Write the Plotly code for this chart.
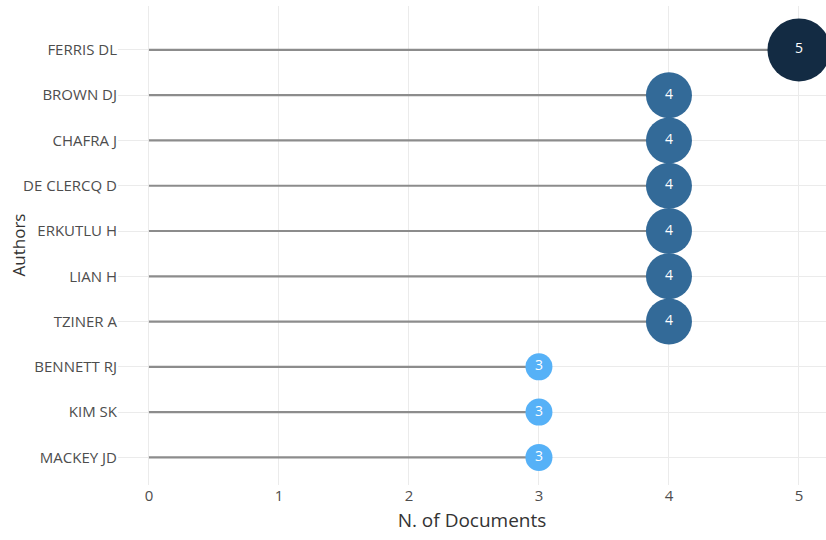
import plotly.graph_objects as go

# Most relevant authors: number of documents per author (top to bottom)
authors = ["FERRIS DL", "BROWN DJ", "CHAFRA J", "DE CLERCQ D", "ERKUTLU H",
           "LIAN H", "TZINER A", "BENNETT RJ", "KIM SK", "MACKEY JD"]
n_docs = [5, 4, 4, 4, 4, 4, 4, 3, 3, 3]

# Marker colour and diameter per document count
colour_by_count = {3: "#56B1F7", 4: "#336A98", 5: "#132B43"}
size_by_count = {3: 27, 4: 46, 5: 63}

fig = go.Figure()

# Lollipop stems from 0 to each author's count
seg_x, seg_y = [], []
for a, n in zip(authors, n_docs):
    seg_x += [0, n, None]
    seg_y += [a, a, None]
fig.add_trace(go.Scatter(
    x=seg_x, y=seg_y, mode="lines",
    line=dict(color="#8c8c8c", width=2.2),
    hoverinfo="skip", showlegend=False,
))

# Circles with the count printed inside
fig.add_trace(go.Scatter(
    x=n_docs, y=authors, mode="markers+text",
    text=[str(n) for n in n_docs],
    textposition="middle center",
    textfont=dict(color="white", size=14, family="Open Sans"),
    marker=dict(color=[colour_by_count[n] for n in n_docs],
                size=[size_by_count[n] for n in n_docs],
                line=dict(width=0), opacity=1),
    cliponaxis=False, showlegend=False,
))

fig.update_layout(
    width=826, height=540,
    margin=dict(l=118, r=0, t=6, b=55),
    paper_bgcolor="white", plot_bgcolor="white",
    font=dict(family="Open Sans", color="#4d4d4d"),
    xaxis=dict(
        range=[-0.238, 5.208], tickvals=[0, 1, 2, 3, 4, 5],
        showgrid=True, gridcolor="#ebebeb", gridwidth=1,
        zeroline=False, showline=False, ticks="",
        tickfont=dict(size=15, color="#4d4d4d"),
        title=dict(text="N. of Documents", font=dict(size=19, color="#333333"), standoff=9),
    ),
    yaxis=dict(
        type="category", categoryorder="array",
        categoryarray=authors[::-1],
        range=[-0.61, 9.97],
        showgrid=True, gridcolor="#ebebeb", gridwidth=1,
        zeroline=False, showline=False, ticks="",
        tickfont=dict(size=15, color="#4d4d4d"),
    ),
    annotations=[dict(
        text="Authors", textangle=-90,
        xref="paper", yref="paper", x=(18 - 118) / 708, y=0.5,
        xanchor="center", yanchor="middle", showarrow=False,
        font=dict(size=17, color="#333333", family="Open Sans"),
    )],
)

fig.write_html("out.html")
